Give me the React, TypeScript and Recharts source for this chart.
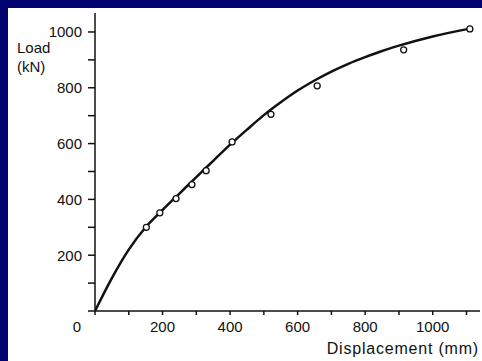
import { ComposedChart, Line, Scatter, XAxis, YAxis } from "recharts";

// fitted load-displacement curve (mm, kN)
const curveDisp = [0, 50, 100, 150, 200, 250, 300, 350, 400, 450, 500, 550, 600, 650, 700, 750, 800, 850, 900, 1000, 1110];
const curveLoad = [0, 118, 220, 300, 362, 421, 480, 538, 596, 650, 702, 748, 790, 826, 858, 886, 910, 932, 951, 984, 1012];

// measured points
const testDisp = [152, 192, 240, 287, 329, 406, 521, 658, 914, 1110];
const testLoad = [300, 352, 403, 453, 503, 606, 705, 807, 936, 1011];

const xTicks = [0, 100, 200, 300, 400, 500, 600, 700, 800, 900, 1000, 1100];
const yTicks = [0, 100, 200, 300, 400, 500, 600, 700, 800, 900, 1000];

const curve = curveDisp.map((d, i) => ({ disp: d, load: curveLoad[i] }));
const tests = testDisp.map((d, i) => ({ disp: d, load: testLoad[i] }));

const FONT = "'Liberation Sans', Arial, sans-serif";

function XTick(props: any) {
  const { x, y, payload } = props;
  const v = payload.value;
  if (v % 200 !== 0 || v > 1000) return <g />;
  return (
    <text x={v === 0 ? x - 18 : x} y={y} dy="0.71em" textAnchor="middle" fontSize={15} fontFamily={FONT} fill="#111">
      {v}
    </text>
  );
}

function YTick(props: any) {
  const { x, y, payload } = props;
  const v = payload.value;
  if (v === 0 || v % 200 !== 0) return <g />;
  return (
    <text x={x} y={y} dy="0.355em" textAnchor="end" fontSize={15} fontFamily={FONT} fill="#111">
      {v}
    </text>
  );
}

function Ring(props: any) {
  const { cx, cy } = props;
  return <circle cx={cx} cy={cy} r={3} fill="#fff" stroke="#111" strokeWidth={1.3} />;
}

export default function App() {
  return (
    <div style={{ position: "absolute", left: 0, top: 0, width: 482, height: 361, background: "#020270" }}>
      <div style={{ position: "absolute", left: 8, top: 8, width: 474, height: 353, background: "#fff" }} />
      <div style={{ position: "absolute", left: 0, top: 0 }}>
        <ComposedChart width={482} height={361} margin={{ top: 13, right: 2, bottom: 49, left: 94 }}>
          <XAxis
            dataKey="disp"
            type="number"
            domain={[0, 1140]}
            ticks={xTicks}
            interval={0}
            height={1}
            tick={<XTick />}
            tickSize={4}
            tickMargin={6}
            stroke="#111"
            strokeWidth={1.5}
            allowDataOverflow
          />
          <YAxis
            dataKey="load"
            type="number"
            domain={[0, 1068]}
            ticks={yTicks}
            interval={0}
            width={1}
            tick={<YTick />}
            tickSize={7}
            tickMargin={6}
            stroke="#111"
            strokeWidth={1.5}
            allowDataOverflow
          />
          <Line
            data={curve}
            dataKey="load"
            type="monotone"
            stroke="#111"
            strokeWidth={2.5}
            dot={false}
            activeDot={false}
            isAnimationActive={false}
          />
          <Scatter data={tests} dataKey="load" shape={<Ring />} isAnimationActive={false} />
        </ComposedChart>
      </div>
      <div style={{ position: "absolute", left: 17, top: 38, fontFamily: FONT, fontSize: 15, lineHeight: "19px", color: "#111" }}>
        Load
        <br />
        (kN)
      </div>
      <div
        style={{
          position: "absolute",
          right: 3,
          top: 339,
          fontFamily: FONT,
          fontSize: 16,
          letterSpacing: 0.8,
          lineHeight: "19px",
          color: "#111",
          whiteSpace: "nowrap",
        }}
      >
        Displacement (mm)
      </div>
    </div>
  );
}
